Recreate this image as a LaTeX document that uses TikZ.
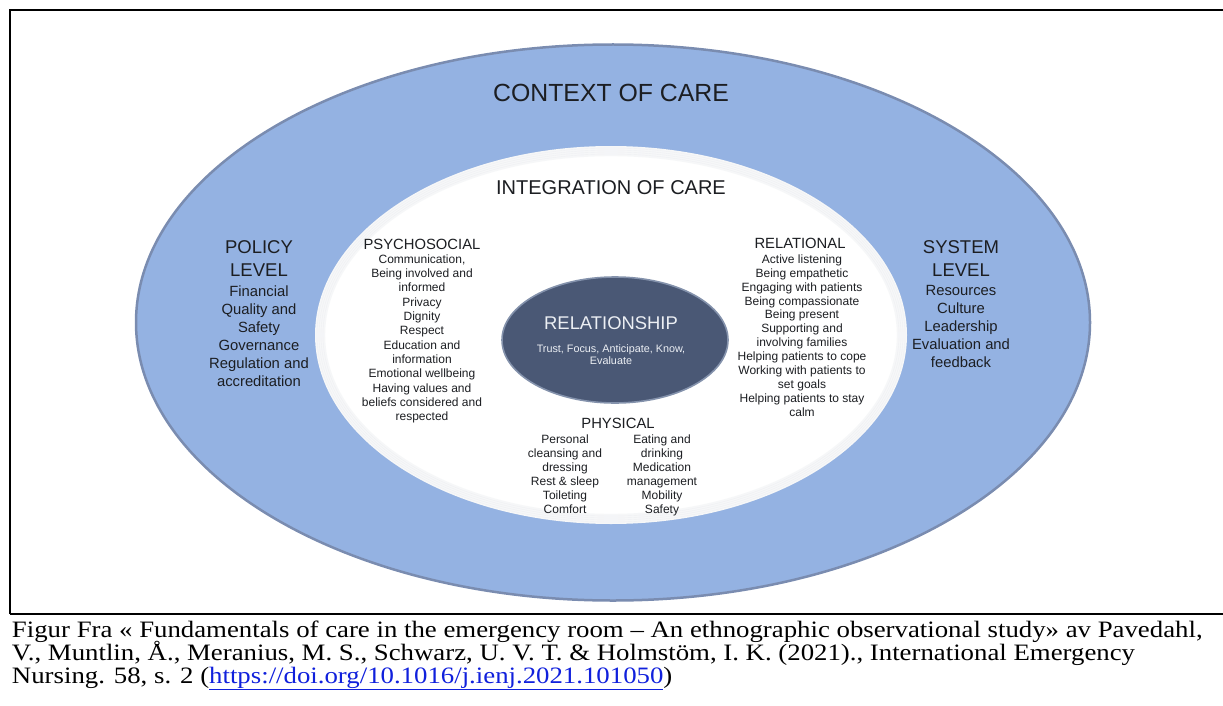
\documentclass[tikz,border=0pt]{standalone}
\usepackage{fontspec}
\setmainfont{Liberation Sans}
\newfontfamily\captionserif[FakeStretch=1.14]{Liberation Serif}
\usetikzlibrary{shapes.geometric}

\definecolor{ringblue}{RGB}{148,178,226}
\definecolor{ringrim}{RGB}{122,140,176}
\definecolor{coredark}{RGB}{74,88,117}
\definecolor{corerim}{RGB}{132,146,172}
\definecolor{ink}{RGB}{28,30,34}
\definecolor{corefont}{RGB}{236,239,244}
\definecolor{linkblue}{RGB}{16,32,220}
\definecolor{haze}{RGB}{150,160,178}

\begin{document}
\begin{tikzpicture}[x=1pt,y=-1pt,
  every node/.style={inner sep=0pt,outer sep=0pt},
  frameline/.style={line width=2pt,black},
  ringtitle/.style={anchor=base,text=ink,font=\fontsize{24.8}{26}\selectfont},
  bandtitle/.style={anchor=base,text=ink,font=\fontsize{20}{22}\selectfont},
  levelhead/.style={anchor=base,text=ink,font=\fontsize{18.5}{20}\selectfont},
  levelitem/.style={anchor=base,text=ink,font=\fontsize{14.8}{16}\selectfont},
  grouphead/.style={anchor=base,text=ink,font=\fontsize{14.8}{16}\selectfont},
  groupitem/.style={anchor=base,text=ink,font=\fontsize{12}{13}\selectfont},
  corehead/.style={anchor=base,text=corefont,font=\fontsize{18.4}{20}\selectfont},
  coreitem/.style={anchor=base,text=corefont,font=\fontsize{10.8}{12}\selectfont},
  captext/.style={anchor=base west,text=black,font=\captionserif\fontsize{23.5}{23}\selectfont},
]
\path[use as bounding box] (0,0) rectangle (1223,706);

% table frame around the figure and its caption
\coordinate (frameBL) at (10,614);
\coordinate (frameTL) at (10,10);
\coordinate (frameTR) at (1223,10);
\coordinate (rowR) at (1223,614);
\draw[frameline] (frameBL) -- (frameTL) -- (frameTR);
\draw[frameline] (frameBL) -- (rowR);

% outer ring: context of care
\node[ellipse,draw=ringrim,line width=2.5pt,fill=ringblue,
      minimum width=954,minimum height=556] (context) at (613,322.5) {};

% middle field: integration of care, with a soft inner shade
\node[ellipse,fill=white,minimum width=592,minimum height=378] (integration) at (611,335) {};
\foreach \k in {0,...,4}
  \draw[haze,opacity=0.08,line width=2.4pt]
    (611,335) ellipse [x radius={296-2*\k-1}, y radius={189-2*\k-1}];

% core: relationship
\node[ellipse,draw=corerim,line width=1.6pt,fill=coredark,
      minimum width=226,minimum height=126] (core) at (615,340) {};

% titles of the rings
\node[ringtitle] (ctxTitle) at (611,102) {CONTEXT OF CARE};
\node[bandtitle] (intTitle) at (611,194) {INTEGRATION OF CARE};

% policy level
\node[levelhead] (policyA) at (259,253.7) {POLICY};
\node[levelhead] (policyB) at (259,276.7) {LEVEL};
\foreach \t [count=\i] in {Financial, Quality and, Safety, Governance, Regulation and, accreditation}
  \node[levelitem] (policy-\i) at (259,{296.3+18*(\i-1)}) {\t};

% system level
\node[levelhead] (systemA) at (961,253.7) {SYSTEM};
\node[levelhead] (systemB) at (961,276.7) {LEVEL};
\foreach \t [count=\i] in {Resources, Culture, Leadership, Evaluation and, feedback}
  \node[levelitem] (system-\i) at (961,{295.3+18*(\i-1)}) {\t};

% psychosocial
\node[grouphead] (psyHead) at (422,249.2) {PSYCHOSOCIAL};
\foreach \t [count=\i] in {{Communication,}, Being involved and, informed, Privacy, Dignity, Respect,
    Education and, information, Emotional wellbeing, Having values and,
    beliefs considered and, respected}
  \node[groupitem] (psy-\i) at (422,{263.3+14.3*(\i-1)}) {\t};

% relational
\node[grouphead] (relHead) at (800,248.2) {RELATIONAL};
\foreach \t [count=\i] in {Active listening, Being empathetic, Engaging with patients,
    Being compassionate, Being present, Supporting and, involving families,
    Helping patients to cope, Working with patients to, set goals,
    Helping patients to stay, calm}
  \node[groupitem] (rel-\i) at (802,{263.3+13.9*(\i-1)}) {\t};

% physical
\node[grouphead] (phyHead) at (618,428.2) {PHYSICAL};
\foreach \t [count=\i] in {Personal, cleansing and, dressing, Rest \& sleep, Toileting, Comfort}
  \node[groupitem] (phyL-\i) at (565,{443.3+14*(\i-1)}) {\t};
\foreach \t [count=\i] in {Eating and, drinking, Medication, management, Mobility, Safety}
  \node[groupitem] (phyR-\i) at (662,{443.3+14*(\i-1)}) {\t};

% relationship core text
\node[corehead] (coreHead) at (611,329.6) {RELATIONSHIP};
\node[coreitem] (coreA) at (611,352.9) {Trust, Focus, Anticipate, Know,};
\node[coreitem] (coreB) at (611,364.9) {Evaluate};

% caption
\node[captext] (cap1) at (12,637) {Figur Fra « Fundamentals of care in the emergency room – An ethnographic observational study» av Pavedahl,};
\node[captext] (cap2) at (12,660) {V., Muntlin, Å., Meranius, M. S., Schwarz, U. V. T. \& Holmstöm, I. K. (2021)., International Emergency};
\node[captext] (cap3) at (12,683) {Nursing. 58, s. 2 (\textcolor{linkblue}{\underline{https://doi.org/10.1016/j.ienj.2021.101050}})};
\end{tikzpicture}
\end{document}
